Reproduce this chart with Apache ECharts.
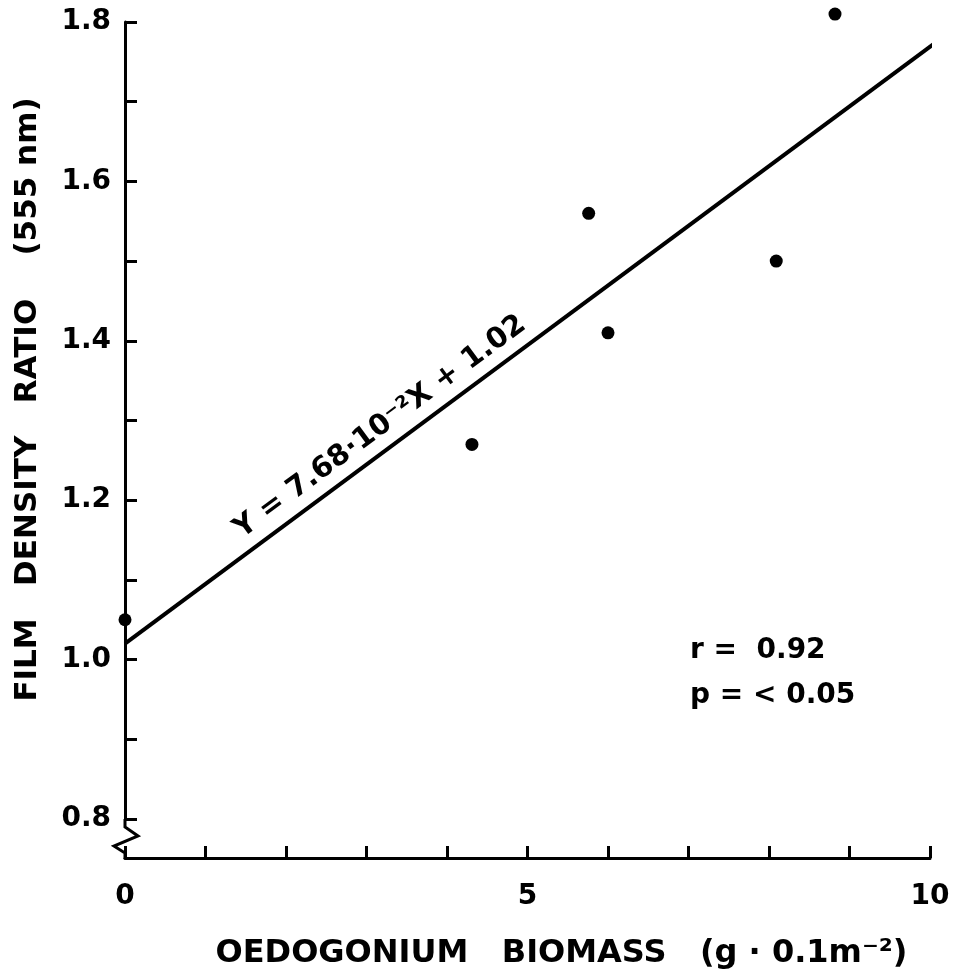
<!DOCTYPE html>
<html>
<head>
<meta charset="utf-8">
<script src="https://cdn.jsdelivr.net/npm/echarts@6/dist/echarts.min.js"></script>
<style>
  html, body { margin: 0; padding: 0; background: #fff; }
  #main { width: 959px; height: 979px; }
</style>
</head>
<body>
<div id="main"></div>
<script>
// values
const biomass = [0, 4.31, 5.76, 6.0, 8.09, 8.82];
const densityRatio = [1.05, 1.27, 1.56, 1.41, 1.50, 1.81];
const fitX = [0, 10.08];
const fitY = [1.02, 1.775];
const xTickLabels = [0, 5, 10];
const yTickLabels = [0.8, 1.0, 1.2, 1.4, 1.6, 1.8];
const equationText = 'Y = 7.68·10⁻²X + 1.02';
const statsLines = ['r =  0.92', 'p = < 0.05'];

const font = 'DejaVu Sans';
const ink = '#000';

const chart = echarts.init(document.getElementById('main'));

const option = {
  animation: false,
  backgroundColor: '#fff',
  grid: { left: 125, right: 29, top: 22, bottom: 160 },
  xAxis: {
    type: 'value',
    min: 0,
    max: 10,
    interval: 1,
    offset: 39,
    name: 'OEDOGONIUM   BIOMASS   (g · 0.1m⁻²)',
    nameLocation: 'middle',
    nameGap: 80,
    nameTextStyle: { fontFamily: font, fontSize: 32, fontWeight: 'bold', color: ink, padding: [0, 0, 0, 68] },
    axisLine: { onZero: false, lineStyle: { color: ink, width: 3 } },
    axisTick: { inside: true, length: 12, lineStyle: { color: ink, width: 3 } },
    axisLabel: {
      margin: 25,
      fontFamily: font,
      fontSize: 28,
      fontWeight: 'bold',
      color: ink,
      formatter: v => xTickLabels.includes(v) ? String(v) : ''
    },
    splitLine: { show: false }
  },
  yAxis: {
    type: 'value',
    min: 0.8,
    max: 1.8,
    interval: 0.1,
    name: 'FILM   DENSITY   RATIO    (555 nm)',
    nameLocation: 'middle',
    nameGap: 82,
    nameTextStyle: { fontFamily: font, fontSize: 31, fontWeight: 'bold', color: ink, padding: [0, 0, 0, 42] },
    axisLine: { onZero: false, lineStyle: { color: ink, width: 3 } },
    axisTick: { inside: true, length: 12, lineStyle: { color: ink, width: 3 } },
    axisLabel: {
      margin: 14,
      fontFamily: font,
      fontSize: 28,
      fontWeight: 'bold',
      color: ink,
      formatter: v => yTickLabels.some(t => Math.abs(t - v) < 1e-6) ? v.toFixed(1) : ''
    },
    splitLine: { show: false }
  },
  series: [
    {
      type: 'line',
      data: fitX.map((x, i) => [x, fitY[i]]),
      showSymbol: false,
      clip: false,
      lineStyle: { color: ink, width: 4 },
      silent: true
    },
    {
      type: 'scatter',
      data: biomass.map((x, i) => [x, densityRatio[i]]),
      symbol: 'circle',
      symbolSize: 13,
      clip: false,
      itemStyle: { color: ink, opacity: 1 }
    }
  ]
};

chart.setOption(option);

// axis break on the y axis and text annotations
const base = chart.convertToPixel({ gridIndex: 0 }, [0, 0.8]);
const eq = chart.convertToPixel({ gridIndex: 0 }, [3.17, 1.292]);
const zig = [[0, 0], [0, 8], [13, 17], [-11, 27], [0, 34], [0, 40]];

chart.setOption({
  graphic: [
    {
      type: 'polyline',
      shape: { points: zig.map(p => [base[0] + p[0], base[1] + p[1]]) },
      style: { stroke: ink, lineWidth: 3, fill: null },
      z: 10
    },
    {
      type: 'text',
      x: eq[0],
      y: eq[1],
      rotation: 36.5 * Math.PI / 180,
      style: {
        text: equationText,
        fontFamily: font,
        fontSize: 29,
        fontWeight: 'bold',
        fill: ink,
        align: 'center',
        verticalAlign: 'middle'
      }
    },
    {
      type: 'text',
      left: 690,
      top: 628,
      style: {
        text: statsLines.join('\n'),
        fontFamily: font,
        fontSize: 28,
        fontWeight: 'bold',
        lineHeight: 45,
        fill: ink
      }
    }
  ]
});
</script>
</body>
</html>
